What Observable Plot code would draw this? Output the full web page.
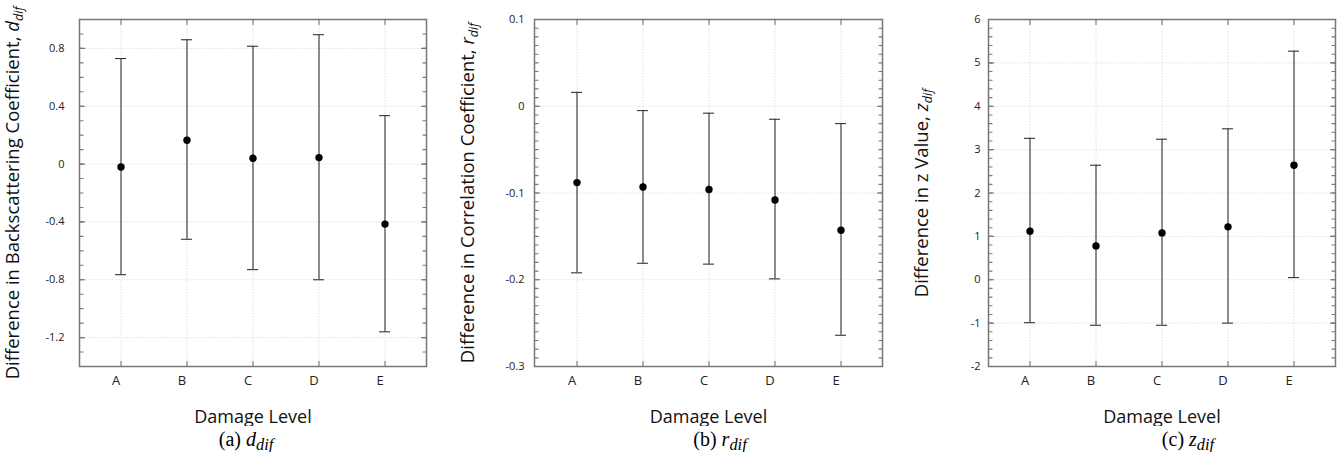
<!DOCTYPE html>
<html>
<head>
<meta charset="utf-8">
<script src="https://cdn.jsdelivr.net/npm/d3@7"></script>
<script src="https://cdn.jsdelivr.net/npm/@observablehq/plot@0.6"></script>
<style>
  html, body { margin: 0; padding: 0; background: #fff; }
  #row { display: flex; width: 1340px; height: 452px; }
  .panel { position: relative; height: 452px; }
  .panel svg { display: block; }
  .cap { position: absolute; top: 426px; transform: translateX(-50%); font-family: "Liberation Serif", "Times New Roman", serif; font-size: 20px; line-height: 26px; white-space: nowrap; color: #000; }
  .cap i { font-style: italic; }
  .cap sub { font-size: 0.82em; vertical-align: -0.22em; line-height: 0; }
</style>
</head>
<body>
<div id="row"></div>
<script>
// ---- data ----
const levels = ["A", "B", "C", "D", "E"];

const dMean = [-0.02, 0.165, 0.04, 0.045, -0.415];
const dLow  = [-0.765, -0.52, -0.73, -0.80, -1.16];
const dHigh = [0.73, 0.86, 0.815, 0.895, 0.335];

const rMean = [-0.088, -0.093, -0.096, -0.108, -0.143];
const rLow  = [-0.192, -0.181, -0.182, -0.199, -0.264];
const rHigh = [0.016, -0.005, -0.008, -0.015, -0.020];

const zMean = [1.12, 0.78, 1.08, 1.22, 2.64];
const zLow  = [-0.99, -1.05, -1.05, -1.00, 0.05];
const zHigh = [3.26, 2.64, 3.24, 3.48, 5.27];

const dTicks = [-1.2, -0.8, -0.4, 0, 0.4, 0.8];
const rTicks = [-0.3, -0.2, -0.1, 0, 0.1];
const zTicks = [-2, -1, 0, 1, 2, 3, 4, 5, 6];

const xTitle = "Damage Level";
const panels = [
  {mean: dMean, low: dLow, high: dHigh, ticks: dTicks, domain: [-1.4, 1.0], minorStep: 0.1,
   yPrefix: "Difference in Backscattering Coefficient, ", yVar: "d", ySub: "dif",
   capLetter: "(a)", width: 446, ml: 79, mr: 20, tickPad: 15, capX: 246},
  {mean: rMean, low: rLow, high: rHigh, ticks: rTicks, domain: [-0.3, 0.1], minorStep: 0.01,
   yPrefix: "Difference in Correlation Coefficient, ", yVar: "r", ySub: "dif",
   capLetter: "(b)", width: 447, ml: 88, mr: 11, tickPad: 10, capX: 274},
  {mean: zMean, low: zLow, high: zHigh, ticks: zTicks, domain: [-2, 6], minorStep: 0.2,
   yPrefix: "Difference in z Value, ", yVar: "z", ySub: "dif",
   capLetter: "(c)", width: 447, ml: 95, mr: 5, tickPad: 8, capX: 295}
];

const tickShape = {draw(ctx, l) { ctx.moveTo(0, 0); ctx.lineTo(0, -l); }};
const FONT = "'Open Sans', 'DejaVu Sans', sans-serif";

const row = document.getElementById("row");

for (const p of panels) {
  const rows = levels.map((lv, i) => ({level: lv, mean: p.mean[i], low: p.low[i], high: p.high[i]}));
  const [lo, hi] = p.domain;
  const n = Math.round((hi - lo) / p.minorStep);
  const minor = d3.range(n + 1).map(k => +(lo + k * p.minorStep).toFixed(4));
  const frameCol = "#777";
  const tickMarks = (data, opts) => Plot.vector(data, {anchor: "start", shape: tickShape, stroke: frameCol, strokeWidth: 1.1, ...opts});
  const gridStyle = {stroke: "#d4d4d4", strokeOpacity: 1, strokeWidth: 0.7, strokeDasharray: "1.5,1.5"};

  const chart = Plot.plot({
    width: p.width,
    height: 426,
    marginLeft: p.ml,
    marginRight: p.mr,
    marginTop: 19,
    marginBottom: 60,
    style: {fontFamily: FONT, background: "#fff", color: "#222"},
    x: {type: "band", domain: levels, paddingInner: 0.835, paddingOuter: 0.5175},
    y: {domain: p.domain},
    marks: [
      Plot.gridY(p.ticks, gridStyle),
      Plot.gridX(levels, gridStyle),
      Plot.axisY(p.ticks, {tickSize: 0, tickPadding: p.tickPad, fontSize: 11, tickFormat: d => String(d),
        label: p.yPrefix + p.yVar, labelAnchor: "center", labelOffset: 74, labelArrow: "none"}),
      Plot.axisX(levels, {tickSize: 0, tickPadding: 9, fontSize: 13, dx: -5,
        label: xTitle, labelAnchor: "center", labelOffset: 56, labelArrow: "none"}),
      // frame ticks (minor and major), inward
      tickMarks(minor, {y: d => d, frameAnchor: "left", rotate: 90, length: 3.5}),
      tickMarks(minor, {y: d => d, frameAnchor: "right", rotate: -90, length: 3.5}),
      tickMarks(p.ticks, {y: d => d, frameAnchor: "left", rotate: 90, length: 5}),
      tickMarks(p.ticks, {y: d => d, frameAnchor: "right", rotate: -90, length: 5}),
      tickMarks(levels, {x: d => d, frameAnchor: "top", rotate: 180, length: 5}),
      tickMarks(levels, {x: d => d, frameAnchor: "bottom", rotate: 0, length: 5}),
      // error bars
      Plot.ruleX(rows, {x: "level", y1: "low", y2: "high", stroke: "#333", strokeWidth: 1.1}),
      Plot.tickY(rows, {x: "level", y: "low", stroke: "#333", strokeWidth: 1.1}),
      Plot.tickY(rows, {x: "level", y: "high", stroke: "#333", strokeWidth: 1.1}),
      Plot.dot(rows, {x: "level", y: "mean", r: 3.7, fill: "#000", stroke: "none"}),
      Plot.frame({stroke: frameCol, strokeWidth: 1.5})
    ]
  });

  // style axis titles and add italic variable + subscript
  const svg = d3.select(chart);
  svg.selectAll('g[aria-label="y-axis label"], g[aria-label="x-axis label"]')
    .attr("font-size", 18).style("font-size", "18px").attr("fill", "#111");
  svg.selectAll('g[aria-label="y-axis label"]').attr("font-size", 18.5).style("font-size", "18.5px");
  svg.selectAll('g[aria-label="y-axis label"] text').each(function () {
    const t = d3.select(this);
    t.text(null);
    t.append("tspan").text(p.yPrefix);
    t.append("tspan").attr("font-style", "italic").text(p.yVar);
    t.append("tspan").attr("font-style", "italic").attr("font-size", "0.68em").attr("dy", "0.35em").text(p.ySub);
  });

  const div = document.createElement("div");
  div.className = "panel";
  div.style.width = p.width + "px";
  div.appendChild(chart);
  const cap = document.createElement("div");
  cap.className = "cap";
  cap.style.left = p.capX + "px";
  cap.innerHTML = `${p.capLetter} <i>${p.yVar}</i><sub><i>${p.ySub}</i></sub>`;
  div.appendChild(cap);
  row.appendChild(div);
}
</script>
</body>
</html>
